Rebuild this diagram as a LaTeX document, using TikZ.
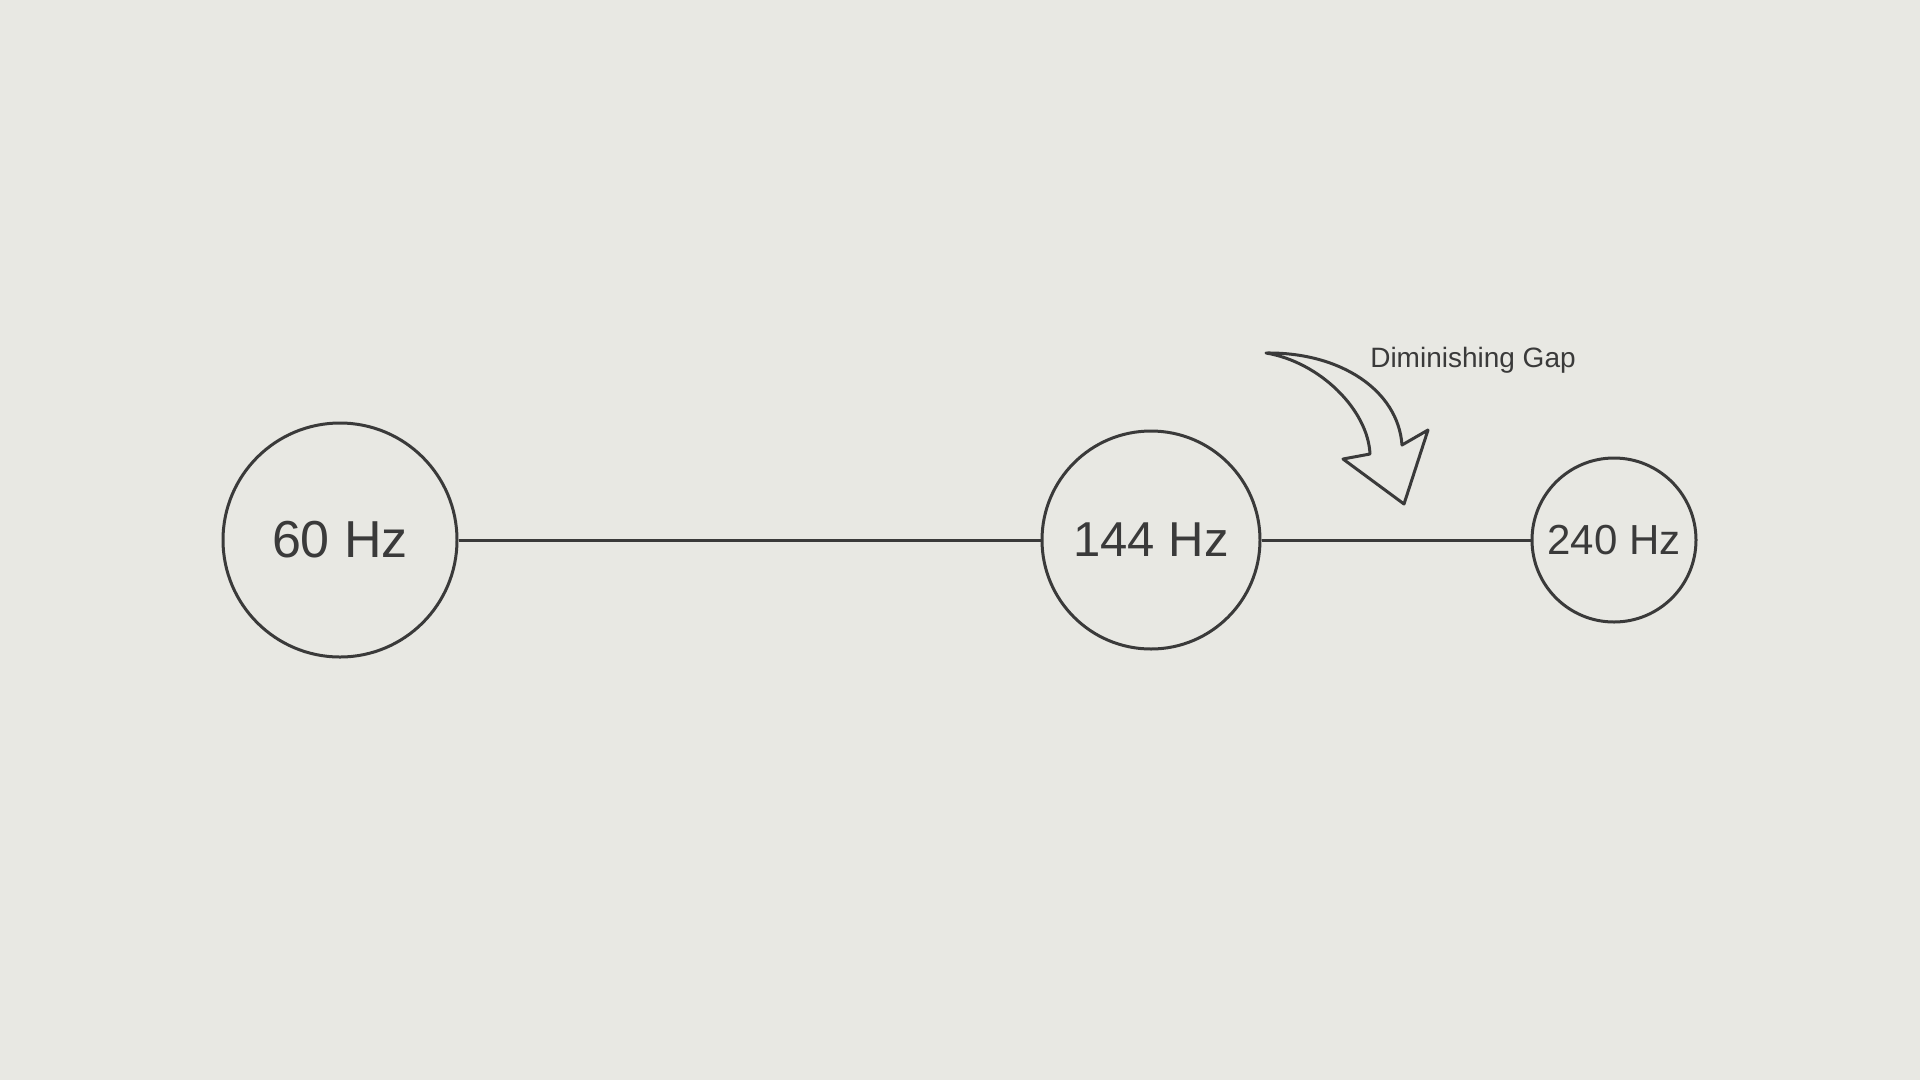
\documentclass[tikz,border=0pt]{standalone}
\usepackage{fontspec}
\setmainfont{Liberation Sans}
\usetikzlibrary{positioning}
\definecolor{ink}{HTML}{3A3A3A}
\definecolor{paper}{HTML}{E8E8E3}

\begin{document}
\begin{tikzpicture}[x=1pt,y=-1pt]
	\tikzstyle{every node}=[draw=ink,line width=3pt,shape=circle,inner sep=0pt,text=ink];
	\fill[paper] (0,0) rectangle (1920,1080);
	\path (340,540)  node[minimum size=234pt,font=\fontsize{52}{60}\selectfont] (v1) {60 Hz};
	\path (1151,540) node[minimum size=218pt,font=\fontsize{49}{56}\selectfont] (v2) {144 Hz};
	\path (1614,540) node[minimum size=164pt,font=\fontsize{42}{48}\selectfont] (v3) {240 Hz};
	\draw[ink,line width=3pt] (v1) -- (v2)
	(v2) -- (v3);
	\path (1473,367) node[draw=none,shape=rectangle,anchor=base,font=\fontsize{28}{32}\selectfont] (gap) {Diminishing Gap};
	\draw[ink,line width=3pt,line join=round,fill=paper] (1266,353)
		.. controls (1340,352) and (1398,390) .. (1402,445)
		-- (1428,430) -- (1404,504) -- (1343,459) -- (1370,454)
		.. controls (1368,410) and (1320,362) .. (1266,353) -- cycle;
\end{tikzpicture}
\end{document}
